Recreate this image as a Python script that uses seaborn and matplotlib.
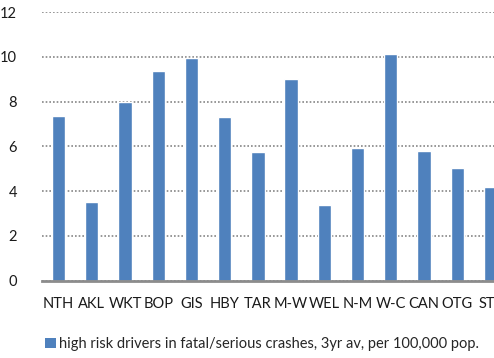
import matplotlib
matplotlib.use("Agg")
import matplotlib.pyplot as plt
import seaborn as sns
import pandas as pd
from matplotlib.patches import Patch

regions = ["NTH", "AKL", "WKT", "BOP", "GIS", "HBY", "TAR", "M-W",
           "WEL", "N-M", "W-C", "CAN", "OTG", "STL"]
rates = [7.36, 3.50, 8.00, 9.37, 9.97, 7.30, 5.76, 9.02,
         3.40, 5.92, 10.13, 5.79, 5.05, 4.20]
yticks = [0, 2, 4, 6, 8, 10, 12]
series_label = "high risk drivers in fatal/serious crashes, 3yr av, per 100,000 pop."

sns.set_theme(style="white")
plt.rcParams["font.family"] = ["Lato", "DejaVu Sans"]

bar_color = "#4F81BD"
df = pd.DataFrame({"region": regions, "rate": rates})

fig = plt.figure(figsize=(4.94, 3.58), dpi=100)
# plot area runs past the right edge of the figure
ax = fig.add_axes([42 / 494, 1 - 280.5 / 358, 465 / 494, 268.2 / 358])

sns.barplot(data=df, x="region", y="rate", color=bar_color, width=0.4,
            saturation=1, ax=ax, zorder=3)

ax.set_xlim(-0.5, len(regions) - 0.5)
ax.set_ylim(0, 12)
ax.set_yticks(yticks)
ax.set_yticklabels([str(t) for t in yticks])
ax.set_xlabel("")
ax.set_ylabel("")

ax.grid(axis="y", color="#868686", linestyle=(0, (1, 1.2)), linewidth=1.2, zorder=0)
ax.grid(axis="x", visible=False)
for side in ["top", "right", "left"]:
    ax.spines[side].set_visible(False)
ax.spines["bottom"].set_color("#8C8C8C")
ax.spines["bottom"].set_linewidth(2)
ax.spines["bottom"].set_zorder(4)

ax.tick_params(axis="y", length=0, pad=18, labelsize=10.5, labelcolor="#1a1a1a")
ax.tick_params(axis="x", length=0, pad=12, labelsize=10.5, labelcolor="#1a1a1a")

fig.legend(handles=[Patch(facecolor=bar_color, edgecolor="none")],
           labels=[series_label], loc="center left",
           bbox_to_anchor=(45 / 494, 1 - 344 / 358), frameon=False,
           fontsize=10.5, handlelength=0.75, handleheight=0.75,
           handletextpad=0.2, borderpad=0, borderaxespad=0)

fig.savefig("out.png", dpi=100)
